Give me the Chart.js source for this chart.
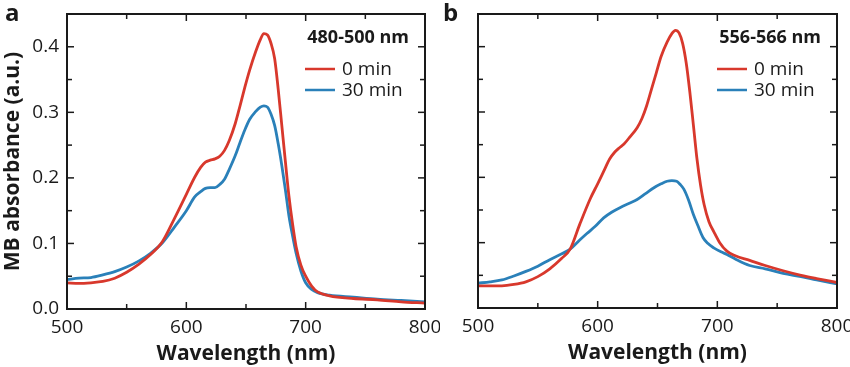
<!DOCTYPE html>
<html>
<head>
<meta charset="utf-8">
<script src="https://cdn.jsdelivr.net/npm/chart.js@4.4.1/dist/chart.umd.min.js"></script>
<style>
  body { margin: 0; background: #fff; }
  #wrapA { position: absolute; left: 0; top: 0; width: 440px; height: 367px; }
  #wrapB { position: absolute; left: 440px; top: 0; width: 410px; height: 367px; }
</style>
</head>
<body>
<div id="wrapA"><canvas id="chartA" width="440" height="367"></canvas></div>
<div id="wrapB"><canvas id="chartB" width="410" height="367"></canvas></div>
<script>
// panel a (480-500 nm)
const wlA0 = [500, 510, 520, 530, 540, 550, 560, 570, 580, 590, 600, 607, 612, 616, 620, 624, 628, 632, 636, 641, 645, 649, 653, 658, 662, 665, 668, 671, 674, 677, 680, 683, 686, 689, 692, 696, 700, 705, 710, 720, 740, 760, 780, 800];
const absA0 = [0.040, 0.039, 0.040, 0.042, 0.047, 0.056, 0.068, 0.083, 0.103, 0.138, 0.175, 0.201, 0.216, 0.224, 0.227, 0.229, 0.233, 0.242, 0.257, 0.283, 0.310, 0.338, 0.364, 0.392, 0.411, 0.420, 0.418, 0.405, 0.382, 0.335, 0.280, 0.225, 0.172, 0.130, 0.095, 0.067, 0.050, 0.035, 0.026, 0.020, 0.016, 0.014, 0.011, 0.009];
const wlA30 = [500, 510, 520, 530, 540, 550, 560, 570, 580, 590, 600, 607, 612, 616, 620, 624, 628, 632, 636, 641, 645, 649, 653, 658, 662, 665, 668, 671, 674, 677, 680, 683, 686, 689, 692, 696, 700, 705, 710, 720, 740, 760, 780, 800];
const absA30 = [0.045, 0.047, 0.048, 0.052, 0.057, 0.064, 0.073, 0.085, 0.101, 0.125, 0.150, 0.171, 0.179, 0.184, 0.185, 0.185, 0.190, 0.198, 0.213, 0.234, 0.254, 0.273, 0.289, 0.301, 0.308, 0.310, 0.308, 0.297, 0.280, 0.252, 0.219, 0.182, 0.142, 0.112, 0.085, 0.058, 0.040, 0.030, 0.025, 0.021, 0.018, 0.015, 0.013, 0.011];

// panel b (556-566 nm)
const wlB0 = [500, 510, 520, 530, 540, 550, 560, 570, 577, 585, 594, 600, 605, 610, 614, 618, 622, 627, 633, 637, 641, 645, 649, 653, 658, 662, 665, 668, 671, 674, 677, 680, 683, 686, 689, 693, 697, 702, 708, 715, 727, 740, 755, 770, 783, 800];
const absB0 = [0.034, 0.034, 0.034, 0.036, 0.040, 0.048, 0.060, 0.076, 0.090, 0.128, 0.168, 0.190, 0.209, 0.228, 0.238, 0.245, 0.251, 0.262, 0.276, 0.290, 0.310, 0.335, 0.360, 0.385, 0.407, 0.420, 0.425, 0.421, 0.405, 0.375, 0.331, 0.280, 0.228, 0.188, 0.158, 0.132, 0.117, 0.100, 0.087, 0.080, 0.073, 0.065, 0.057, 0.050, 0.045, 0.039];
const wlB30 = [500, 510, 520, 530, 540, 550, 560, 570, 577, 585, 591, 598, 605, 612, 619, 626, 633, 640, 647, 653, 658, 662, 666, 669, 672, 676, 680, 684, 688, 692, 697, 703, 708, 715, 727, 740, 755, 770, 783, 800];
const absB30 = [0.038, 0.040, 0.043, 0.049, 0.056, 0.064, 0.074, 0.083, 0.090, 0.104, 0.114, 0.125, 0.138, 0.147, 0.154, 0.160, 0.166, 0.175, 0.184, 0.190, 0.194, 0.195, 0.194, 0.189, 0.182, 0.165, 0.143, 0.125, 0.108, 0.099, 0.092, 0.086, 0.082, 0.075, 0.065, 0.060, 0.053, 0.048, 0.043, 0.037];

const seriesLabels = ['0 min', '30 min'];
const seriesColors = ['#d8382c', '#2a80b9'];
const xTicks = [500, 600, 700, 800];
const yTicks = [0.0, 0.1, 0.2, 0.3, 0.4];

const FONT = "'Open Sans', 'Noto Sans', sans-serif";
const INK = '#1a1a1a';

// frame + inward ticks on all four sides, plus panel letter and legend
const frameTicks = {
    id: 'frameTicks',
    afterDraw(chart, args, opts) {
        const ctx = chart.ctx;
        const a = chart.chartArea;
        const x = chart.scales.x, y = chart.scales.y;
        ctx.save();
        ctx.setLineDash([]);
        ctx.strokeStyle = INK;
        ctx.lineWidth = 2;
        ctx.beginPath();
        ctx.rect(a.left, a.top, a.right - a.left, a.bottom - a.top);
        ctx.stroke();

        ctx.lineWidth = 1.5;
        const seg = (x1, y1, x2, y2) => {
            ctx.beginPath(); ctx.moveTo(x1, y1); ctx.lineTo(x2, y2); ctx.stroke();
        };
        for (let v = 500; v <= 800; v += 50) {
            const px = x.getPixelForValue(v);
            const len = v % 100 === 0 ? 7 : 5;
            seg(px, a.bottom, px, a.bottom - len);
            seg(px, a.top, px, a.top + len);
        }
        for (let i = 0; i <= 9; i++) {
            const py = y.getPixelForValue(i * 0.05);
            const len = i % 2 === 0 ? 7 : 5;
            seg(a.left, py, a.left + len, py);
            seg(a.right, py, a.right - len, py);
        }

        // panel letter
        ctx.fillStyle = INK;
        ctx.font = `bold 24px ${FONT}`;
        ctx.textAlign = 'left';
        ctx.textBaseline = 'alphabetic';
        ctx.fillText(opts.letter, opts.letterX, 21);

        // legend
        ctx.font = `bold 18px ${FONT}`;
        ctx.textAlign = 'right';
        ctx.textBaseline = 'middle';
        ctx.fillText(opts.title, a.right - 16, a.top + 24);
        ctx.font = `19px ${FONT}`;
        ctx.textAlign = 'left';
        chart.data.datasets.forEach((ds, i) => {
            const ly = a.top + 55 + i * 21;
            ctx.strokeStyle = ds.borderColor;
            ctx.lineWidth = 2.5;
            seg(a.right - 120, ly, a.right - 90, ly);
            ctx.fillText(ds.label, a.right - 83, ly + 1);
        });
        ctx.restore();
    }
};

function makeChart(id, wl0, v0, wl1, v1, letter, letterX, title, yWidth, showY, pad) {
    const wls = [wl0, wl1];
    const vals = [v0, v1];
    return new Chart(document.getElementById(id), {
        type: 'line',
        data: {
            datasets: seriesLabels.map((lab, s) => ({
                label: lab,
                data: wls[s].map((w, i) => ({ x: w, y: vals[s][i] })),
                borderColor: seriesColors[s],
                borderWidth: 2.8,
                pointRadius: 0,
                cubicInterpolationMode: 'monotone',
                fill: false
            }))
        },
        options: {
            responsive: false,
            animation: false,
            layout: { padding: pad },
            plugins: {
                legend: { display: false },
                tooltip: { enabled: false },
                frameTicks: { letter, letterX, title }
            },
            scales: {
                x: {
                    type: 'linear',
                    min: 500,
                    max: 800,
                    afterBuildTicks: (s) => { s.ticks = xTicks.map(v => ({ value: v })); },
                    afterFit: (s) => { s.height = 58; s.paddingLeft = 0; s.paddingRight = 0; },
                    grid: { display: false, drawTicks: false },
                    border: { display: false },
                    ticks: { color: INK, font: { family: FONT, size: 19 }, padding: 7, maxRotation: 0 },
                    title: {
                        display: true,
                        text: 'Wavelength (nm)',
                        color: INK,
                        font: { family: FONT, size: 21, weight: 'bold' },
                        padding: 0
                    }
                },
                y: {
                    min: 0,
                    max: 0.45,
                    afterBuildTicks: (s) => { s.ticks = yTicks.map(v => ({ value: v })); },
                    afterFit: (s) => { s.width = yWidth; s.paddingTop = 0; s.paddingBottom = 0; },
                    grid: { display: false, drawTicks: false },
                    border: { display: false },
                    ticks: {
                        display: showY,
                        color: INK,
                        font: { family: FONT, size: 19 },
                        padding: 8,
                        callback: (v) => v.toFixed(1)
                    },
                    title: {
                        display: showY,
                        text: 'MB absorbance (a.u.)',
                        color: INK,
                        font: { family: FONT, size: 21, weight: 'bold' },
                        padding: 0
                    }
                }
            }
        },
        plugins: [frameTicks]
    });
}

makeChart('chartA', wlA0, absA0, wlA30, absA30, 'a', 5, '480-500 nm', 67, true,
    { top: 14, right: 15, left: 0, bottom: 0 });
makeChart('chartB', wlB0, absB0, wlB30, absB30, 'b', 3, '556-566 nm', 38, false,
    { top: 14, right: 13, left: 0, bottom: 1 });
</script>
</body>
</html>
